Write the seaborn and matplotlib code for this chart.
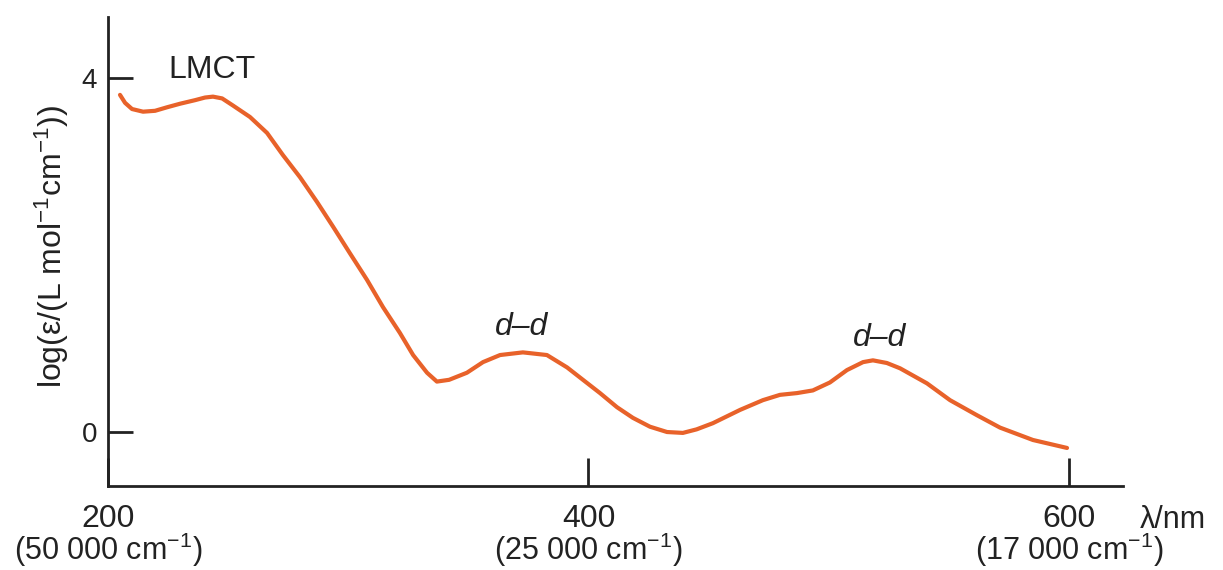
import matplotlib
matplotlib.use('Agg')
import matplotlib.pyplot as plt
import seaborn as sns
import pandas as pd

# Absorption spectrum (wavelength in nm, log epsilon)
wavelength = [205.0, 207.1, 210.0, 214.6, 219.6, 224.6, 230.0, 236.2, 240.4,
              243.7, 247.5, 252.0, 259.1, 266.2, 272.8, 279.9, 287.0, 293.7,
              300.7, 307.8, 314.5, 321.5, 327.0, 332.8, 336.9, 342.0, 349.4,
              356.1, 363.2, 372.7, 382.7, 391.1, 397.7, 404.8, 411.9, 418.5,
              425.6, 432.7, 439.3, 445.0, 451.8, 463.1, 472.6, 479.7, 486.8,
              493.4, 500.5, 507.6, 514.3, 518.4, 524.2, 529.7, 540.9, 550.5,
              561.7, 571.3, 585.0, 599.2]
log_eps = [3.81, 3.72, 3.65, 3.62, 3.63, 3.67, 3.71, 3.75, 3.78,
           3.79, 3.77, 3.69, 3.56, 3.38, 3.13, 2.88, 2.60, 2.32,
           2.02, 1.72, 1.41, 1.12, 0.87, 0.67, 0.57, 0.59, 0.67,
           0.79, 0.87, 0.90, 0.87, 0.73, 0.59, 0.44, 0.28, 0.16,
           0.06, 0.00, -0.01, 0.03, 0.10, 0.25, 0.36, 0.42, 0.44,
           0.47, 0.56, 0.70, 0.79, 0.81, 0.78, 0.72, 0.55, 0.36,
           0.19, 0.05, -0.09, -0.18]

x_ticks = [200, 400, 600]
x_ticklabels = ['200', '400', '600']
wavenumber_labels = ['(50 000 $\\mathregular{cm^{-1}}$)',
                     '(25 000 $\\mathregular{cm^{-1}}$)',
                     '(17 000 $\\mathregular{cm^{-1}}$)']
y_ticks = [0, 4]

band_labels = ['LMCT', 'd–d', 'd–d']
band_x = [243.3, 372.3, 521.3]
band_y = [4.09, 1.19, 1.06]
band_italic = [False, True, True]

df = pd.DataFrame({'wavelength': wavelength, 'log_eps': log_eps})

sns.set_style('ticks')
plt.rcParams['font.family'] = ['Liberation Sans', 'DejaVu Sans']
plt.rcParams['mathtext.fontset'] = 'custom'
plt.rcParams['mathtext.rm'] = 'Liberation Sans'

fig = plt.figure(figsize=(12.23, 5.70), dpi=100)
ax = fig.add_axes([108 / 1223, 1 - 486 / 570, 1015 / 1223, 469 / 570])

sns.lineplot(data=df, x='wavelength', y='log_eps', ax=ax, color='#e8622a',
             linewidth=3.0, sort=False, solid_capstyle='round',
             solid_joinstyle='round')

ax.set_xlim(200, 622.5)
ax.set_ylim(-0.61, 4.69)
sns.despine(ax=ax)
for side in ['left', 'bottom']:
    ax.spines[side].set_linewidth(2.0)
    ax.spines[side].set_color('#222222')

ax.set_xticks(x_ticks)
ax.set_xticklabels(x_ticklabels, fontsize=23)
ax.set_yticks(y_ticks)
ax.set_yticklabels([str(v) for v in y_ticks], fontsize=20)
ax.tick_params(axis='x', direction='in', length=20, width=2, pad=13,
               color='#222222', labelcolor='#222222')
ax.tick_params(axis='y', direction='in', length=18, width=2, pad=8,
               color='#222222', labelcolor='#222222')

# second line under each wavelength tick: the wavenumber
for xt, wl in zip(x_ticks, wavenumber_labels):
    ax.text(xt, -0.137, wl, fontsize=22, ha='center', va='center',
            transform=ax.get_xaxis_transform(), clip_on=False,
            color='#222222')

ax.set_xlabel('')
ax.set_ylabel('log(ε/(L mol$\\mathregular{^{-1}}$cm$\\mathregular{^{-1}}$))',
              fontsize=23, color='#222222')
ax.yaxis.set_label_coords(-0.036, 0.51)

for lab, bx, by, it in zip(band_labels, band_x, band_y, band_italic):
    ax.text(bx, by, lab, fontsize=23, ha='center', va='center',
            style='italic' if it else 'normal', color='#222222')

# axis unit sits to the right of the x axis end
ax.text(1.017, -0.072, 'λ/nm', fontsize=22, ha='left', va='center',
        transform=ax.transAxes, clip_on=False, color='#222222')

fig.savefig('out.png', dpi=100)
